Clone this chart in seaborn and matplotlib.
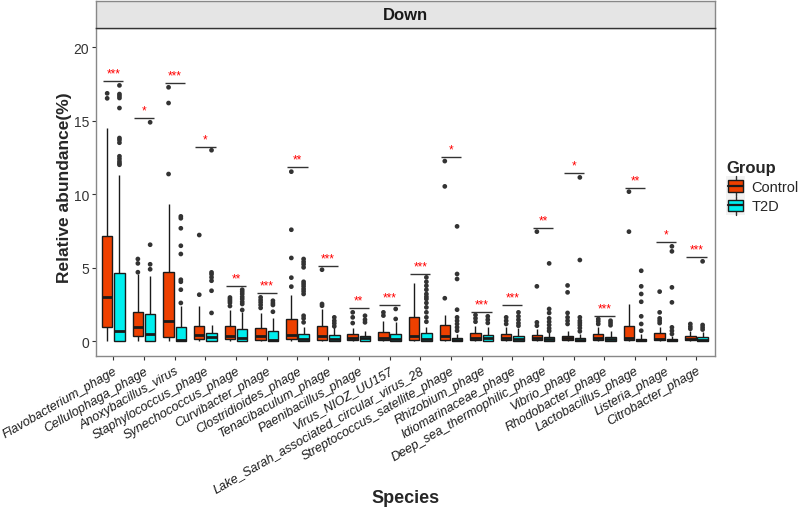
import numpy as np
import pandas as pd
import matplotlib
matplotlib.use("Agg")
import matplotlib.pyplot as plt
import seaborn as sns
from matplotlib.patches import Patch, Rectangle
from matplotlib.lines import Line2D
from matplotlib.legend_handler import HandlerBase

# ---------------- data ----------------
categories = ["Flavobacterium_phage", "Cellulophaga_phage", "Anoxybacillus_virus",
              "Staphylococcus_phage", "Synechococcus_phage", "Curvibacter_phage",
              "Clostridioides_phage", "Tenacibaculum_phage", "Paenibacillus_phage",
              "Virus_NIOZ_UU157", "Lake_Sarah_associated_circular_virus_28",
              "Streptococcus_satellite_phage", "Rhizobium_phage", "Idiomarinaceae_phage",
              "Deep_sea_thermophilic_phage", "Vibrio_phage", "Rhodobacter_phage",
              "Lactobacillus_phage", "Listeria_phage", "Citrobacter_phage"]
groups = ["Control", "T2D"]

ctrl_lo = [0.0, 0.0, 0.0, 0.0, 0.0, 0.0, 0.0, 0.0, 0.0, 0.0,
           0.0, 0.0, 0.0, 0.0, 0.0, 0.0, 0.0, 0.0, 0.0, 0.0]
ctrl_q1 = [0.97, 0.33, 0.29, 0.16, 0.18, 0.10, 0.18, 0.10, 0.08, 0.07,
           0.08, 0.08, 0.07, 0.07, 0.06, 0.07, 0.06, 0.06, 0.06, 0.06]
ctrl_med = [3.03, 0.95, 1.38, 0.40, 0.36, 0.33, 0.40, 0.33, 0.22, 0.22,
            0.38, 0.38, 0.22, 0.24, 0.25, 0.20, 0.20, 0.22, 0.18, 0.18]
ctrl_q3 = [7.14, 1.98, 4.74, 1.06, 1.01, 0.88, 1.55, 1.02, 0.51, 0.65,
           1.65, 1.08, 0.55, 0.49, 0.43, 0.38, 0.49, 1.06, 0.54, 0.34]
ctrl_hi = [14.5, 4.55, 9.34, 2.4, 2.1, 1.93, 3.15, 2.2, 0.88, 1.4,
           3.97, 1.79, 1.05, 1.0, 0.84, 0.7, 0.95, 2.56, 1.0, 0.7]
ctrl_out = [[16.87, 16.53], [4.7, 5.3, 5.6], [17.28, 16.21, 11.38], [7.23, 3.17],
            [2.98, 2.86, 2.74, 2.62, 2.4], [2.99, 2.81, 2.65, 2.47, 2.27],
            [11.54, 7.59, 5.67, 4.33, 3.72], [4.87, 2.54, 2.42], [1.97, 1.63, 1.24],
            [1.97, 1.75], [], [12.26, 10.54, 2.93], [1.79, 1.56, 1.33],
            [1.63, 1.4, 1.18], [7.46, 3.74, 1.29, 1.06],
            [3.8, 3.33, 1.93, 1.63, 1.4, 1.18], [1.52, 1.36, 1.18], [10.18, 7.46],
            [3.38, 1.97, 1.56, 1.4, 1.24], [1.18, 1.0, 0.85]]

t2d_lo = [0.0, 0.0, 0.0, 0.0, 0.0, 0.0, 0.0, 0.0, 0.0, 0.0,
          0.0, 0.0, 0.0, 0.0, 0.0, 0.0, 0.0, 0.0, 0.0, 0.0]
t2d_q1 = [0.05, 0.05, 0.04, 0.05, 0.05, 0.04, 0.04, 0.05, 0.04, 0.03,
          0.04, 0.02, 0.04, 0.04, 0.03, 0.02, 0.03, 0.02, 0.02, 0.03]
t2d_med = [0.71, 0.52, 0.10, 0.26, 0.24, 0.08, 0.15, 0.18, 0.20, 0.14,
           0.15, 0.10, 0.20, 0.18, 0.15, 0.10, 0.14, 0.08, 0.07, 0.12]
t2d_q3 = [4.65, 1.84, 0.96, 0.54, 0.84, 0.69, 0.48, 0.43, 0.34, 0.49,
          0.54, 0.21, 0.43, 0.39, 0.27, 0.22, 0.32, 0.16, 0.13, 0.27]
t2d_hi = [11.3, 4.42, 2.4, 1.13, 2.0, 1.56, 1.0, 0.95, 0.7, 1.3,
          0.95, 0.5, 0.95, 0.9, 0.6, 0.5, 0.72, 0.5, 0.38, 0.65]
t2d_out = [[17.41, 16.82, 16.69, 16.55, 15.87, 13.83, 13.70, 13.51, 12.59, 12.42, 12.24, 12.11, 12.01],
           [14.9, 6.57, 5.24, 4.9],
           [8.5, 8.37, 7.69, 6.5, 5.94, 4.19, 4.05, 3.51, 2.61],
           [13.0, 4.69, 4.56, 4.35, 4.12, 3.44, 1.93],
           [3.51, 3.37, 3.22, 3.03, 2.88, 2.69, 2.54, 2.13],
           [2.76, 2.6, 2.47, 2.01],
           [5.6, 5.41, 5.24, 5.03, 4.05, 3.9, 3.74, 3.56, 3.4, 3.22, 1.74, 1.56, 1.29],
           [1.63, 1.4, 1.22, 1.02],
           [1.74, 1.47, 1.29],
           [2.2, 1.52],
           [4.35, 4.05, 3.78, 3.51, 3.22, 3.03, 2.88, 2.61, 2.31, 1.97, 1.63, 1.33],
           [7.82, 4.58, 4.24, 2.15, 1.63, 1.4, 1.18, 0.95, 0.72],
           [1.7, 1.47, 1.25],
           [1.97, 1.7, 1.47, 1.24, 1.06],
           [5.3, 2.2, 1.93, 1.56, 1.33, 1.11, 0.88, 0.7],
           [11.15, 5.53, 1.63, 1.4, 1.25, 1.09, 0.9, 0.68],
           [1.4, 1.25, 1.09],
           [4.8, 3.74, 3.22, 2.69, 1.7, 1.18, 0.72],
           [6.46, 6.12, 3.67, 2.65, 0.95, 0.72, 0.5],
           [5.44, 1.11, 0.95, 0.8]]

sig_labels = ["***", "*", "***", "*", "**", "***", "**", "***", "**", "***",
              "***", "*", "***", "***", "**", "*", "***", "**", "*", "***"]
sig_y = [17.69, 15.17, 17.55, 13.24, 3.78, 3.27, 11.84, 5.14, 2.24, 2.47,
         4.58, 12.56, 2.01, 2.47, 7.71, 11.43, 1.74, 10.45, 6.76, 5.71]

y_ticks = [0, 5, 10, 15, 20]

# ---------------- tables ----------------
box_rows, out_rows = [], []
stats = {"Control": (ctrl_lo, ctrl_q1, ctrl_med, ctrl_q3, ctrl_hi, ctrl_out),
         "T2D": (t2d_lo, t2d_q1, t2d_med, t2d_q3, t2d_hi, t2d_out)}
for i, sp in enumerate(categories):
    for g in groups:
        lo, q1, med, q3, hi, out = stats[g]
        for v in (lo[i], q1[i], med[i], q3[i], hi[i]):
            box_rows.append((sp, g, v))
        for v in out[i]:
            out_rows.append((sp, g, v))
box_df = pd.DataFrame(box_rows, columns=["Species", "Group", "value"])
out_df = pd.DataFrame(out_rows, columns=["Species", "Group", "value"])

# ---------------- style ----------------
sns.set_theme(style="white")
plt.rcParams["font.family"] = ["Liberation Sans", "DejaVu Sans"]

palette = {"Control": "#EE4000", "T2D": "#00EEEE"}
edge = "#1a1a1a"

fig = plt.figure(figsize=(8, 5.1), dpi=100)
ax = fig.add_axes([0.12, 0.30, 0.774, 0.643])

sns.boxplot(data=box_df, x="Species", y="value", hue="Group", order=categories,
            hue_order=groups, palette=palette, saturation=1, whis=(0, 100),
            showfliers=False, showcaps=False, width=0.8, gap=0.15,
            linecolor=edge, linewidth=1.0, medianprops={"linewidth": 2.0},
            legend=False, ax=ax)
sns.stripplot(data=out_df, x="Species", y="value", hue="Group", order=categories,
              hue_order=groups, palette={"Control": "#333333", "T2D": "#333333"},
              dodge=True, jitter=False, size=3.4, linewidth=0, legend=False, ax=ax)

xpos = np.arange(len(categories))
ax.hlines(sig_y, xpos - 0.33, xpos + 0.33, color="#333333", lw=1.0)
for x, y, lab in zip(xpos, sig_y, sig_labels):
    ax.text(x, y + 0.1, lab, color="#FF0000", ha="center", va="bottom", fontsize=8.5)

ax.set_xlim(-0.564, 19.61)
ax.set_ylim(-1.0, 21.31)
ax.set_yticks(y_ticks)
ax.set_yticklabels([str(t) for t in y_ticks])
ax.set_xticks(xpos)
ax.set_xticklabels(categories, rotation=30, ha="right", rotation_mode="anchor",
                   fontstyle="italic", fontsize=9.2, color="#1a1a1a")
ax.tick_params(axis="y", labelsize=10, labelcolor="#333333", length=3, width=0.8,
               color="#333333", pad=2, left=True)
ax.tick_params(axis="x", length=3, width=0.8, color="#333333", pad=3, bottom=True)
ax.set_xlabel("Species", fontsize=13, fontweight="bold")
ax.set_ylabel("Relative abundance(%)", fontsize=12.5, fontweight="bold")
ax.xaxis.set_label_coords(0.5, -0.405)
ax.yaxis.set_label_coords(-0.038, 0.515)
for s in ax.spines.values():
    s.set_color("#888888")
    s.set_linewidth(1.0)
ax.grid(False)

# strip
sax = fig.add_axes([0.12, 0.943, 0.774, 0.053])
sax.set_facecolor("#E5E5E5")
sax.set_xticks([])
sax.set_yticks([])
for s in sax.spines.values():
    s.set_color("#888888")
    s.set_linewidth(1.0)
sax.spines["bottom"].set_color("#333333")
sax.text(0.5, 0.5, "Down", ha="center", va="center", fontsize=12, fontweight="bold",
         color="#1a1a1a", transform=sax.transAxes)


# legend
class BoxKey(HandlerBase):
    def create_artists(self, legend, orig_handle, xdescent, ydescent, width, height,
                       fontsize, trans):
        x0, y0 = -xdescent, -ydescent
        bg = Rectangle((x0, y0 - 2), width, height + 4, facecolor="#F2F2F2",
                       edgecolor="none", transform=trans)
        wh = Line2D([x0 + width / 2, x0 + width / 2], [y0 - 2, y0 + height + 2],
                    color="#333333", lw=1.0, transform=trans)
        bx = Rectangle((x0 + width * 0.1, y0 + height * 0.1), width * 0.8, height * 0.8,
                       facecolor=orig_handle.get_facecolor(), edgecolor=edge, lw=1.0,
                       transform=trans)
        md = Line2D([x0 + width * 0.1, x0 + width * 0.9], [y0 + height / 2, y0 + height / 2],
                    color=edge, lw=1.6, transform=trans)
        return [bg, wh, bx, md]


handles = [Patch(facecolor=palette[g], label=g) for g in groups]
leg = fig.legend(handles=handles, labels=groups, title="Group", loc="upper left",
                 bbox_to_anchor=(0.908, 0.685), frameon=False, fontsize=10.5,
                 title_fontproperties={"weight": "bold", "size": 12},
                 handlelength=1.3, handleheight=1.1, handletextpad=0.4,
                 labelspacing=0.3, alignment="left", borderpad=0, borderaxespad=0,
                 handler_map={Patch: BoxKey()})

fig.savefig("out.png", dpi=100)
